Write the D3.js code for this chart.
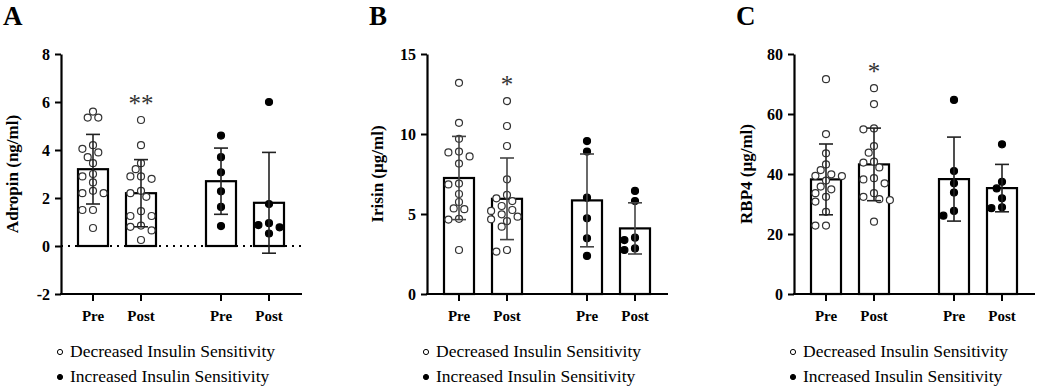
<!DOCTYPE html>
<html>
<head>
<meta charset="utf-8">
<script src="https://cdn.jsdelivr.net/npm/d3@7"></script>
<style>
  body { margin: 0; background: #fff; }
  text { font-family: "Liberation Serif", "Times New Roman", serif; }
</style>
</head>
<body>
<svg id="chart" width="1038" height="387"></svg>
<script>
// grupos y etapas
const stages = ["Pre", "Post"];
const cohorts = ["Decreased Insulin Sensitivity", "Increased Insulin Sensitivity"];

// A - Adropin (ng/ml): medias y SD (dec-pre, dec-post, inc-pre, inc-post)
const adropinMean = [3.2, 2.2, 2.7, 1.8];
const adropinSD = [1.45, 1.4, 1.38, 2.1];
const adropinPoints = [
  [5.6, 5.35, 5.35, 4.2, 3.9, 4.05, 3.7, 3.45, 3.0, 2.9, 2.65, 2.3, 2.2, 2.2, 1.5, 1.5, 0.75],
  [5.25, 4.2, 3.45, 3.2, 2.9, 2.8, 2.9, 2.3, 2.2, 2.05, 1.45, 1.25, 1.25, 0.85, 0.8, 0.65, 0.25],
  [4.6, 3.7, 3.07, 2.28, 1.63, 0.83],
  [6.0, 1.75, 0.95, 0.87, 0.78, 0.52]
];
const adropinTicks = [-2, 0, 2, 4, 6, 8];

// B - Irisin (µg/ml)
const irisinMean = [7.25, 5.95, 5.85, 4.1];
const irisinSD = [2.6, 2.55, 2.9, 1.6];
const irisinPoints = [
  [13.2, 10.7, 9.7, 8.9, 8.85, 8.6, 8.15, 6.9, 6.85, 6.25, 5.75, 5.35, 5.3, 4.7, 4.65, 2.75],
  [12.06, 10.5, 9.25, 7.17, 6.19, 5.98, 5.81, 5.5, 5.25, 5.19, 4.98, 4.83, 4.67, 4.56, 4.21, 2.75, 2.65],
  [9.56, 8.9, 6.02, 4.73, 3.48, 2.38],
  [6.44, 5.81, 3.52, 3.37, 2.85, 2.75]
];
const irisinTicks = [0, 5, 10, 15];

// C - RBP4 (µg/ml)
const rbp4Mean = [38.2, 43.2, 38.3, 35.3];
const rbp4SD = [11.8, 12.1, 14, 7.9];
const rbp4Points = [
  [71.6, 53.3, 46.9, 43.2, 41.3, 39.9, 39.3, 39.4, 37.8, 35.8, 34.9, 33.6, 30.8, 32.4, 27.4, 22.8, 22.8],
  [68.6, 63.3, 54.9, 55.2, 49.3, 47.1, 43.8, 44.1, 42.2, 36.9, 38.6, 38.2, 33.6, 32.4, 31.6, 31.3, 24.1],
  [64.7, 41, 36.9, 33.8, 27.7, 26.1],
  [49.9, 37.4, 35.2, 31.9, 28.9, 28.6]
];
const rbp4Ticks = [0, 20, 40, 60, 80];

const serif = "'Liberation Serif', 'Times New Roman', serif";
const svg = d3.select("#chart");

// Reparto tipo beeswarm para los puntos
function swarm(vals, y, cx) {
  const placed = [];
  const steps = [0, -5.3, 5.3, -10.6, 10.6, -15.9, 15.9, -21.2, 21.2];
  vals.slice().sort((a, b) => b - a).forEach(v => {
    const py = y(v);
    const dx = steps.find(s => placed.every(q => Math.hypot(q.x - (cx + s), q.y - py) >= 7.4));
    placed.push({ x: cx + (dx ?? 0), y: py, v });
  });
  return placed;
}

function drawPanel(p) {
  const g = svg.append("g").attr("font-family", serif);
  const y = d3.scaleLinear().domain([p.ticks[0], p.ticks[p.ticks.length - 1]]).range([294, 54]);
  const outer = d3.scaleBand().domain(cohorts).range([p.left, p.left + 240])
    .paddingInner(0.625).paddingOuter(0.25);
  const inner = d3.scalePoint().domain(stages).range([0, outer.bandwidth()]);
  const xc = i => outer(cohorts[i >> 1]) + inner(stages[i % 2]);
  const base = Math.max(0, p.ticks[0]);

  // letra del panel
  g.append("text").attr("x", p.left - 58).attr("y", 25)
    .attr("font-size", 27).attr("font-weight", "bold").text(p.letter);

  // barras
  g.selectAll("rect.bar").data(p.mean).join("rect")
    .attr("class", "bar")
    .attr("x", (d, i) => xc(i) - 15)
    .attr("width", 30)
    .attr("y", d => y(d))
    .attr("height", d => y(base) - y(d))
    .attr("fill", "#fff").attr("stroke", "#000").attr("stroke-width", 2.2);

  // puntos
  p.points.forEach((vals, i) => {
    const pts = swarm(vals, y, xc(i));
    g.selectAll(null).data(pts).join("circle")
      .attr("cx", d => d.x).attr("cy", d => d.y).attr("r", 3.5)
      .attr("fill", i < 2 ? "#fff" : "#000")
      .attr("stroke", i < 2 ? "#333" : "#000")
      .attr("stroke-width", 1.2);
  });

  // barras de error (media ± SD)
  const eb = g.selectAll("g.err").data(p.mean).join("g").attr("class", "err")
    .attr("stroke", p.errColor).attr("stroke-width", 1.6);
  eb.append("line")
    .attr("x1", (d, i) => xc(i)).attr("x2", (d, i) => xc(i))
    .attr("y1", (d, i) => y(d - p.sd[i])).attr("y2", (d, i) => y(d + p.sd[i]));
  [-1, 1].forEach(s => {
    eb.append("line")
      .attr("x1", (d, i) => xc(i) - 7).attr("x2", (d, i) => xc(i) + 7)
      .attr("y1", (d, i) => y(d + s * p.sd[i])).attr("y2", (d, i) => y(d + s * p.sd[i]));
  });

  // linea punteada en 0
  if (p.ticks[0] < 0) {
    g.append("line").attr("x1", p.left).attr("x2", p.left + 241)
      .attr("y1", y(0)).attr("y2", y(0))
      .attr("stroke", "#000").attr("stroke-width", 2).attr("stroke-dasharray", "2,5");
  }

  // eje y
  const ay = g.append("g").attr("transform", `translate(${p.left},0)`)
    .call(d3.axisLeft(y).tickValues(p.ticks).tickFormat(d => String(d))
      .tickSize(6).tickPadding(5).tickSizeOuter(0));
  ay.attr("font-family", serif);
  ay.select(".domain").attr("stroke-width", 2.2);
  ay.selectAll(".tick line").attr("stroke-width", 2);
  ay.selectAll("text").attr("font-size", 16).attr("font-weight", "bold");

  // eje x
  g.append("line").attr("x1", p.left - 1).attr("x2", p.left + 241)
    .attr("y1", 294).attr("y2", 294).attr("stroke", "#000").attr("stroke-width", 2.2);
  g.selectAll("line.xt").data(p.mean).join("line").attr("class", "xt")
    .attr("x1", (d, i) => xc(i)).attr("x2", (d, i) => xc(i))
    .attr("y1", 294).attr("y2", 301).attr("stroke", "#000").attr("stroke-width", 2);
  g.selectAll("text.xl").data(p.mean).join("text").attr("class", "xl")
    .attr("x", (d, i) => xc(i)).attr("y", 321).attr("text-anchor", "middle")
    .attr("font-size", 15).attr("font-weight", "bold")
    .text((d, i) => stages[i % 2]);

  // titulo eje y
  g.append("text")
    .attr("transform", `translate(${p.left - p.labelGap},174) rotate(-90)`)
    .attr("text-anchor", "middle").attr("font-size", 17).attr("font-weight", "bold")
    .text(p.label);

  // asteriscos
  const top = d3.max(p.points[1]);
  g.append("text").attr("x", xc(1)).attr("y", y(top) - 8)
    .attr("text-anchor", "middle").attr("font-size", 25).attr("fill", "#333")
    .text(p.star);

  // leyenda
  cohorts.forEach((c, k) => {
    g.append("circle").attr("cx", p.left - 1).attr("cy", 352 + k * 25).attr("r", 2.6)
      .attr("fill", k === 0 ? "#fff" : "#000").attr("stroke", "#000").attr("stroke-width", 1);
    g.append("text").attr("x", p.left + 9).attr("y", 357 + k * 25)
      .attr("font-size", 17.5).text(c);
  });
}

drawPanel({ letter: "A", left: 61, ticks: adropinTicks, mean: adropinMean, sd: adropinSD,
  points: adropinPoints, label: "Adropin (ng/ml)", labelGap: 43, star: "**", errColor: "#222" });
drawPanel({ letter: "B", left: 427, ticks: irisinTicks, mean: irisinMean, sd: irisinSD,
  points: irisinPoints, label: "Irisin (µg/ml)", labelGap: 44, star: "*", errColor: "#444" });
drawPanel({ letter: "C", left: 794, ticks: rbp4Ticks, mean: rbp4Mean, sd: rbp4SD,
  points: rbp4Points, label: "RBP4 (µg/ml)", labelGap: 42, star: "*", errColor: "#222" });
</script>
</body>
</html>
